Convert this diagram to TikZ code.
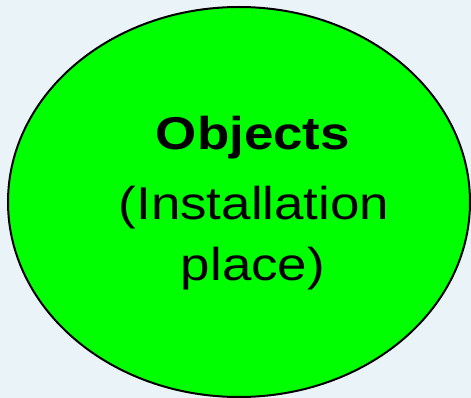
\documentclass[tikz,border=0pt]{standalone}
\usepackage{fontspec}
\setmainfont{Liberation Sans}
\usetikzlibrary{shapes.geometric}
\definecolor{paleblue}{RGB}{234,244,248}
\definecolor{brightgreen}{RGB}{0,255,0}
\tikzset{
  bubble/.style={ellipse, draw=black, line width=2pt, fill=brightgreen,
    minimum width=462pt, minimum height=390pt, inner sep=0pt},
  label text/.style={anchor=base, inner sep=0pt, transform shape, xscale=1.15,
    font=\fontsize{46}{54}\selectfont, text=black}
}
\begin{document}
\begin{tikzpicture}[x=1pt, y=-1pt]
  % canvas
  \fill[paleblue] (0,0) rectangle (471,398);
  \useasboundingbox (0,0) rectangle (471,398);
  % the ellipse
  \node[bubble] (obj) at (239,202) {};
  % caption, one line per node
  \node[label text] (title) at (253,150) {\bfseries Objects};
  \node[label text] (line2) at (254,219) {(Installation};
  \node[label text] (line3) at (253,280) {place)};
\end{tikzpicture}
\end{document}
